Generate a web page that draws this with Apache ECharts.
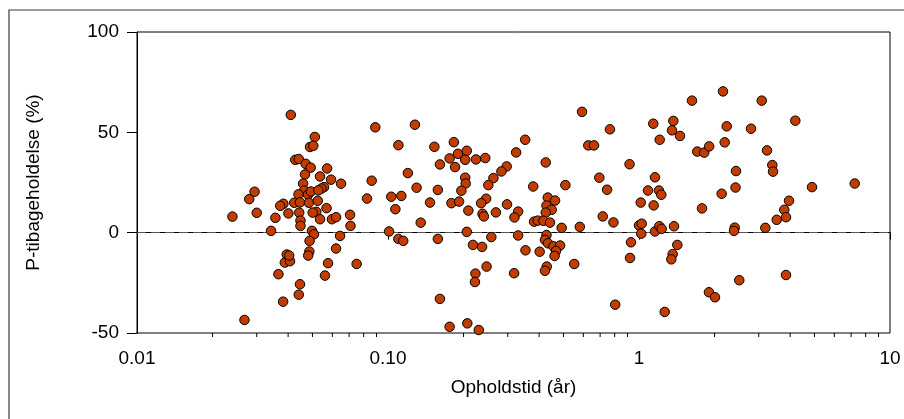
<!DOCTYPE html>
<html><head><meta charset="utf-8">
<script src="https://cdn.jsdelivr.net/npm/echarts@6/dist/echarts.min.js"></script>
<style>html,body{margin:0;padding:0;background:#fff}#c{width:904px;height:419px}</style>
</head><body><div id="c"></div>
<script>
// Opholdstid (år) – x values
const stayYears = [
  0.0240,0.0268,0.0280,0.0294,0.0300,0.0342,0.0356,0.0366,0.0382,0.0388,
  0.0407,0.0395,0.0404,0.0410,0.0427,0.0441,0.0470,0.0492,0.0572,0.0467,
  0.0536,0.0593,0.0459,0.0650,0.0556,0.0543,0.0463,0.0440,0.0480,0.0493,
  0.0528,0.0383,0.0372,0.0423,0.0446,0.0484,0.0525,0.0401,0.0443,0.0518,
  0.0501,0.0569,0.0448,0.0536,0.0448,0.0598,0.0621,0.0706,0.0709,0.0498,
  0.0507,0.0644,0.0487,0.0621,0.0486,0.0481,0.0577,0.0750,0.0561,0.0446,
  0.0441,0.0511,0.0489,0.0504,0.0890,0.0825,0.0861,
  0.128,0.110,0.153,0.183,0.190,0.206,0.176,0.161,0.185,0.203,
  0.224,0.244,0.352,0.324,0.297,0.283,0.263,0.251,0.203,0.204,
  0.196,0.120,0.130,0.158,0.103,0.113,0.107,0.147,0.179,0.192,
  0.246,0.235,0.209,0.238,0.241,0.269,0.298,0.330,0.319,0.135,
  0.101,0.110,0.115,0.158,0.206,0.218,0.237,0.258,0.330,0.353,
  0.247,0.223,0.222,0.318,0.161,0.176,0.207,0.230,0.379,0.425,
  0.433,0.463,0.428,0.449,0.425,0.382,0.395,0.416,0.442,0.492,
  0.581,0.428,0.422,0.434,0.456,0.485,0.467,0.461,0.402,0.429,
  0.422,0.552,0.593,0.628,0.662,0.766,0.695,0.746,0.509,0.717,
  0.791,0.804,0.917,0.929,0.921,
  2.161,1.626,3.083,1.140,1.370,1.353,1.457,1.209,2.236,2.794,
  4.195,2.195,1.707,1.820,1.904,3.236,3.397,3.420,2.435,1.158,
  1.086,1.201,1.227,2.424,2.135,4.889,7.234,3.960,1.016,1.144,
  1.782,1.000,1.025,1.021,1.158,1.205,1.231,1.379,1.421,1.362,
  1.345,2.406,2.391,3.186,3.537,3.792,3.852,2.509,1.900,2.008,
  3.852,1.266
];
// P-tibageholdelse (%) – y values
const retention = [
  8.0,-43.5,16.7,20.4,9.9,0.9,7.4,-20.7,-34.4,-14.9,
  -14.2,-10.9,-11.4,58.7,36.3,36.7,34.3,32.4,32.0,29.0,
  28.0,26.4,24.4,24.4,22.7,22.0,21.0,19.1,18.9,20.5,
  21.1,14.4,13.4,14.9,15.1,14.9,15.9,9.6,10.0,10.4,
  10.0,12.2,6.0,6.7,3.4,6.7,7.7,8.9,3.4,0.9,
  -0.8,-1.6,-4.1,-7.9,-9.4,-11.4,-15.2,-15.6,-21.4,-25.7,
  -30.9,47.7,42.7,43.3,52.5,17.0,25.9,
  53.8,43.6,42.8,45.1,39.3,40.8,37.0,34.0,32.7,36.3,
  36.5,37.2,46.3,40.0,33.0,30.5,27.2,23.7,27.4,24.5,
  20.9,29.7,22.4,21.3,17.9,18.3,11.7,15.0,14.7,15.5,
  16.9,14.7,11.0,9.4,8.1,10.1,14.1,10.5,7.6,5.0,
  0.6,-3.1,-4.1,-3.1,0.4,-6.1,-7.1,-2.2,-1.4,-8.8,
  -16.9,-20.4,-24.6,-20.2,-33.0,-46.9,-45.2,-48.5,23.0,35.0,
  17.5,16.0,13.5,11.4,10.0,5.5,6.0,5.9,5.0,2.4,
  2.9,-1.2,-3.6,-5.3,-6.8,-6.4,-9.1,-11.6,-9.5,-16.9,
  -19.0,-15.6,60.2,43.5,43.5,51.5,27.4,21.4,23.7,8.1,
  5.1,-35.9,34.1,-4.8,-12.6,
  70.4,65.8,65.8,54.3,55.7,51.0,48.2,46.3,53.0,51.8,
  55.8,45.0,40.4,39.9,43.0,41.0,33.7,30.4,30.7,27.6,
  21.0,21.0,18.9,22.5,19.4,22.7,24.5,15.9,15.0,13.6,
  12.1,3.6,4.5,-0.5,0.6,3.2,1.9,3.2,-6.1,-10.7,
  -13.3,2.5,0.9,2.4,6.4,11.4,7.7,-23.7,-29.7,-32.2,
  -21.1,-39.5
];
const xTickLabels = {0.01:'0.01', 0.1:'0.10', 1:'1', 10:'10'};
const yTicks = {min:-50, max:100, step:50};

const points = stayYears.map((x, i) => [x, retention[i]]);
const minorTicks = [];
for (let e = -2; e < 1; e++) for (let m = 2; m <= 9; m++) minorTicks.push([+(m * Math.pow(10, e)).toPrecision(3), yTicks.min]);

const font = 'Liberation Sans, Arial, Helvetica, sans-serif';
const fs = 19;
const chart = echarts.init(document.getElementById('c'), null, {renderer: 'canvas'});
chart.setOption({
  animation: false,
  textStyle: {fontFamily: font},
  graphic: [{
    type: 'rect', silent: true, z: 0,
    shape: {x: 9, y: 10, width: 1000, height: 1000},
    style: {fill: 'none', stroke: '#3a3a3a', lineWidth: 1.2}
  }],
  grid: {left: 137, top: 32, width: 753, height: 301, show: true, borderColor: '#000', borderWidth: 1, backgroundColor: 'transparent'},
  xAxis: {
    type: 'log', logBase: 10, min: 0.01, max: 10,
    name: 'Opholdstid (år)', nameLocation: 'middle', nameGap: 45,
    nameTextStyle: {fontSize: fs, color: '#000', fontFamily: font},
    axisLine: {lineStyle: {color: '#000', width: 1}},
    axisTick: {length: 7, lineStyle: {color: '#000'}},
    axisLabel: {fontSize: fs, color: '#000', margin: 16, fontFamily: font,
      formatter: v => xTickLabels[+v.toPrecision(3)] ?? String(v)},
    splitLine: {show: false}
  },
  yAxis: {
    type: 'value', min: yTicks.min, max: yTicks.max, interval: yTicks.step,
    name: 'P-tibageholdelse (%)', nameLocation: 'middle', nameGap: 94, nameRotate: 90,
    nameTextStyle: {fontSize: fs, color: '#000', fontFamily: font},
    axisLine: {show: true, lineStyle: {color: '#000', width: 1}},
    axisTick: {show: true, length: 10, lineStyle: {color: '#000'}},
    axisLabel: {fontSize: fs, color: '#000', margin: 18, fontFamily: font},
    splitLine: {show: false}
  },
  series: [
    {
      type: 'custom', silent: true, clip: false, z: 3,
      data: minorTicks,
      encode: {x: 0, y: 1},
      renderItem: (params, api) => {
        const p = api.coord([api.value(0), api.value(1)]);
        return {type: 'line', shape: {x1: p[0], y1: p[1], x2: p[0], y2: p[1] + 4}, style: {stroke: '#000', lineWidth: 1}};
      }
    },
    {
      type: 'scatter', data: points, symbol: 'circle', symbolSize: 9.5,
      itemStyle: {color: '#C23C00', borderColor: '#000', borderWidth: 1, opacity: 1},
      markLine: {
        silent: true, symbol: 'none', label: {show: false}, z: 1,
        lineStyle: {type: [9, 5], color: '#555', width: 1.2},
        data: [{yAxis: 0}]
      }
    }
  ]
});
</script></body></html>
